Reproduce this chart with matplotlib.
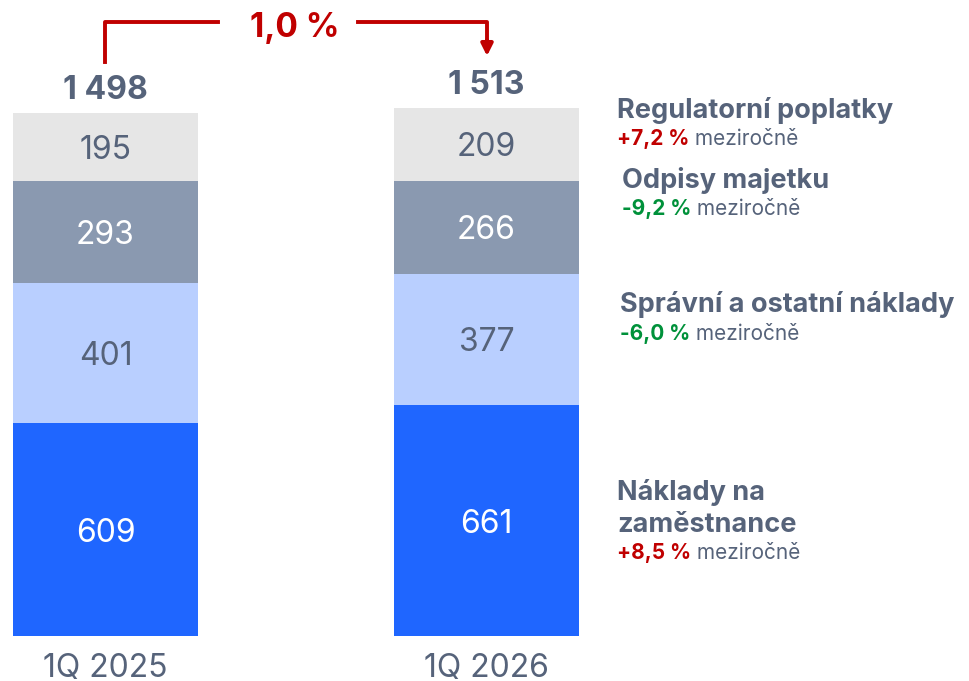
import matplotlib.pyplot as plt
import numpy as np

plt.rcParams['font.family'] = ['Inter', 'DejaVu Sans']

periods = ['1Q 2025', '1Q 2026']
segments = ['Náklady na\nzaměstnance', 'Správní a ostatní náklady', 'Odpisy majetku', 'Regulatorní poplatky']
values = {
    'Náklady na\nzaměstnance': [609, 661],
    'Správní a ostatní náklady': [401, 377],
    'Odpisy majetku': [293, 266],
    'Regulatorní poplatky': [195, 209],
}
totals = ['1 498', '1 513']
yoy = ['+8,5 %', '-6,0 %', '-9,2 %', '+7,2 %']
total_change = '1,0 %'

colors = ['#1f66ff', '#b9cfff', '#8a99b0', '#e6e6e6']
text_colors = ['white', '#56637a', 'white', '#56637a']
slate = '#56637a'
red = '#c00000'
green = '#00913a'

W, H = 969, 681
fig = plt.figure(figsize=(W / 100, H / 100), dpi=100)
ax = fig.add_axes([0, 0, 1, 1])

px_per_unit = 523 / 1498
ax.set_xlim(-105.5 / 381, (W - 105.5) / 381)
ax.set_ylim(-45 / px_per_unit, (H - 45) / px_per_unit)
ax.axis('off')

x = np.arange(len(periods))
bottom = np.zeros(len(periods))
for seg, c, tc in zip(segments, colors, text_colors):
    v = np.array(values[seg])
    ax.bar(x, v, bottom=bottom, width=0.488, color=c, edgecolor='none')
    for xi, b, vi in zip(x, bottom, v):
        ax.text(xi, b + vi / 2, str(vi), ha='center', va='center_baseline',
                fontsize=23, color=tc)
    bottom += v

for xi, top, lab in zip(x, bottom, totals):
    ax.text(xi, top + 20, lab, ha='center', va='bottom', fontsize=23,
            fontweight='bold', color=slate)
for xi, p in zip(x, periods):
    ax.text(xi, -50, p, ha='center', va='top', fontsize=23, color=slate)


def fxy(px, py):
    return px / W, 1 - py / H


# growth bracket
lw = 2.8
fig.add_artist(plt.Line2D([105 / W, 105 / W, 218 / W], [1 - 62 / H, 1 - 22 / H, 1 - 22 / H],
                          color=red, lw=lw, transform=fig.transFigure))
fig.add_artist(plt.Line2D([358 / W, 487 / W, 487 / W], [1 - 22 / H, 1 - 22 / H, 1 - 42 / H],
                          color=red, lw=lw, transform=fig.transFigure))
ax.annotate('', xy=fxy(487, 56), xytext=fxy(487, 40), xycoords='figure fraction',
            textcoords='figure fraction',
            arrowprops=dict(arrowstyle='-|>,head_width=0.35,head_length=0.7',
                            color=red, lw=lw, shrinkA=0, shrinkB=0))
fig.text(*fxy(295, 28), total_change, ha='center', va='center', fontsize=24,
         fontweight='bold', color=red)

# right-hand labels
label_pos = [(617, 508), (620, 305), (622, 180), (617, 110)]
for seg, chg, (lx, ly) in zip(segments, yoy, label_pos):
    nlines = seg.count('\n') + 1
    fig.text(*fxy(lx, ly), seg, ha='left', va='center', fontsize=19.5,
             fontweight='bold', color=slate, linespacing=1.3)
    cy = ly + 29 if nlines == 1 else ly + 45
    t = fig.text(*fxy(lx, cy), chg, ha='left', va='center', fontsize=15,
                 fontweight='bold', color=red if chg.startswith('+') else green)
    ax.annotate(' meziročně', xy=(1, 0.5), xycoords=t, ha='left', va='center',
                fontsize=15, color=slate)

fig.savefig('out.png', dpi=100)
